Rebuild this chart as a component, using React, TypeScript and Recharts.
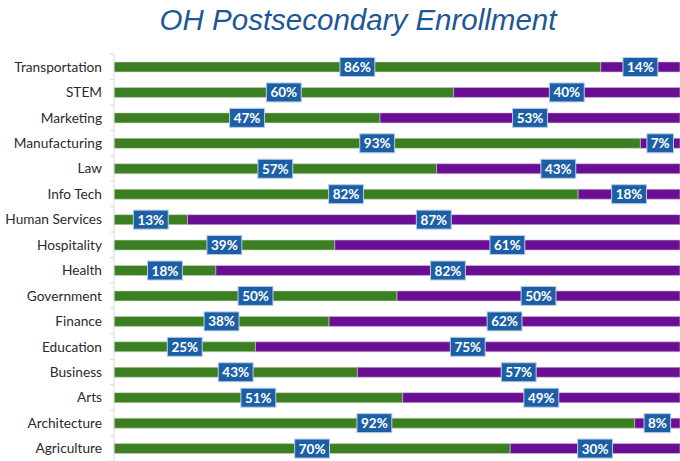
import { BarChart, Bar, XAxis, YAxis, LabelList } from "recharts";

const categories = [
  "Transportation",
  "STEM",
  "Marketing",
  "Manufacturing",
  "Law",
  "Info Tech",
  "Human Services",
  "Hospitality",
  "Health",
  "Government",
  "Finance",
  "Education",
  "Business",
  "Arts",
  "Architecture",
  "Agriculture",
];

const greenShare = [86, 60, 47, 93, 57, 82, 13, 39, 18, 50, 38, 25, 43, 51, 92, 70];
const purpleShare = [14, 40, 53, 7, 43, 18, 87, 61, 82, 50, 62, 75, 57, 49, 8, 30];

const data = categories.map((name, i) => ({
  name,
  green: greenShare[i],
  purple: purpleShare[i],
}));

const GREEN = "#3b7f22";
const PURPLE = "#6a0f93";
const BOX = "#1d5fa6";

const PctLabel = (props: any) => {
  const { x, y, width, height, value } = props;
  const text = `${value}%`;
  const w = text.length * 8.3 + 10;
  const h = 19;
  const cx = x + width / 2;
  const cy = y + height / 2;
  return (
    <g>
      <rect
        x={cx - w / 2}
        y={cy - h / 2}
        width={w}
        height={h}
        fill={BOX}
        stroke="#b9cde4"
        strokeWidth={1}
      />
      <text
        x={cx}
        y={cy + 5}
        textAnchor="middle"
        fill="#ffffff"
        fontFamily="Lato, sans-serif"
        fontWeight="bold"
        fontSize={13.5}
      >
        {text}
      </text>
    </g>
  );
};

const BAND = 407 / 16;

const CategoryTick = (props: any) => {
  const { x, y, payload, index } = props;
  const axisX = x + 12;
  return (
    <g>
      <line x1={axisX - 4} x2={axisX} y1={y - BAND / 2} y2={y - BAND / 2} stroke="#d9d9d9" />
      {index === categories.length - 1 && (
        <line x1={axisX - 4} x2={axisX} y1={y + BAND / 2} y2={y + BAND / 2} stroke="#d9d9d9" />
      )}
      <text
        x={x}
        y={y + 5}
        textAnchor="end"
        fill="#2b2b2b"
        fontFamily="Lato, sans-serif"
        fontSize={13.7}
      >
        {payload.value}
      </text>
    </g>
  );
};

const App = () => {
  return (
    <div
      style={{
        position: "absolute",
        top: 0,
        left: 0,
        width: 680,
        height: 461,
        background: "#ffffff",
        overflow: "hidden",
      }}
    >
      <div
        style={{
          position: "absolute",
          top: 1,
          left: 18,
          width: 680,
          textAlign: "center",
          fontFamily: "'Liberation Sans', Arial, sans-serif",
          fontStyle: "italic",
          fontSize: 29.5,
          color: "#1c5796",
          lineHeight: "38px",
        }}
      >
        OH Postsecondary Enrollment
      </div>
      <BarChart
        width={680}
        height={461}
        data={data}
        layout="vertical"
        margin={{ top: 54, right: 0, bottom: 0, left: 0 }}
        barCategoryGap={0}
      >
        <XAxis type="number" domain={[0, 100]} hide />
        <YAxis
          type="category"
          dataKey="name"
          width={114}
          axisLine={{ stroke: "#d9d9d9" }}
          tickLine={false}
          tickSize={4}
          tickMargin={8}
          tick={<CategoryTick />}
          interval={0}
        />
        <Bar
          dataKey="green"
          stackId="a"
          fill={GREEN}
          barSize={10}
          stroke="#c9d6c0"
          strokeWidth={0.6}
          isAnimationActive={false}
        >
          <LabelList dataKey="green" content={<PctLabel />} />
        </Bar>
        <Bar
          dataKey="purple"
          stackId="a"
          fill={PURPLE}
          barSize={10}
          stroke="#cdbfd8"
          strokeWidth={0.6}
          isAnimationActive={false}
        >
          <LabelList dataKey="purple" content={<PctLabel />} />
        </Bar>
      </BarChart>
    </div>
  );
};

export default App;
